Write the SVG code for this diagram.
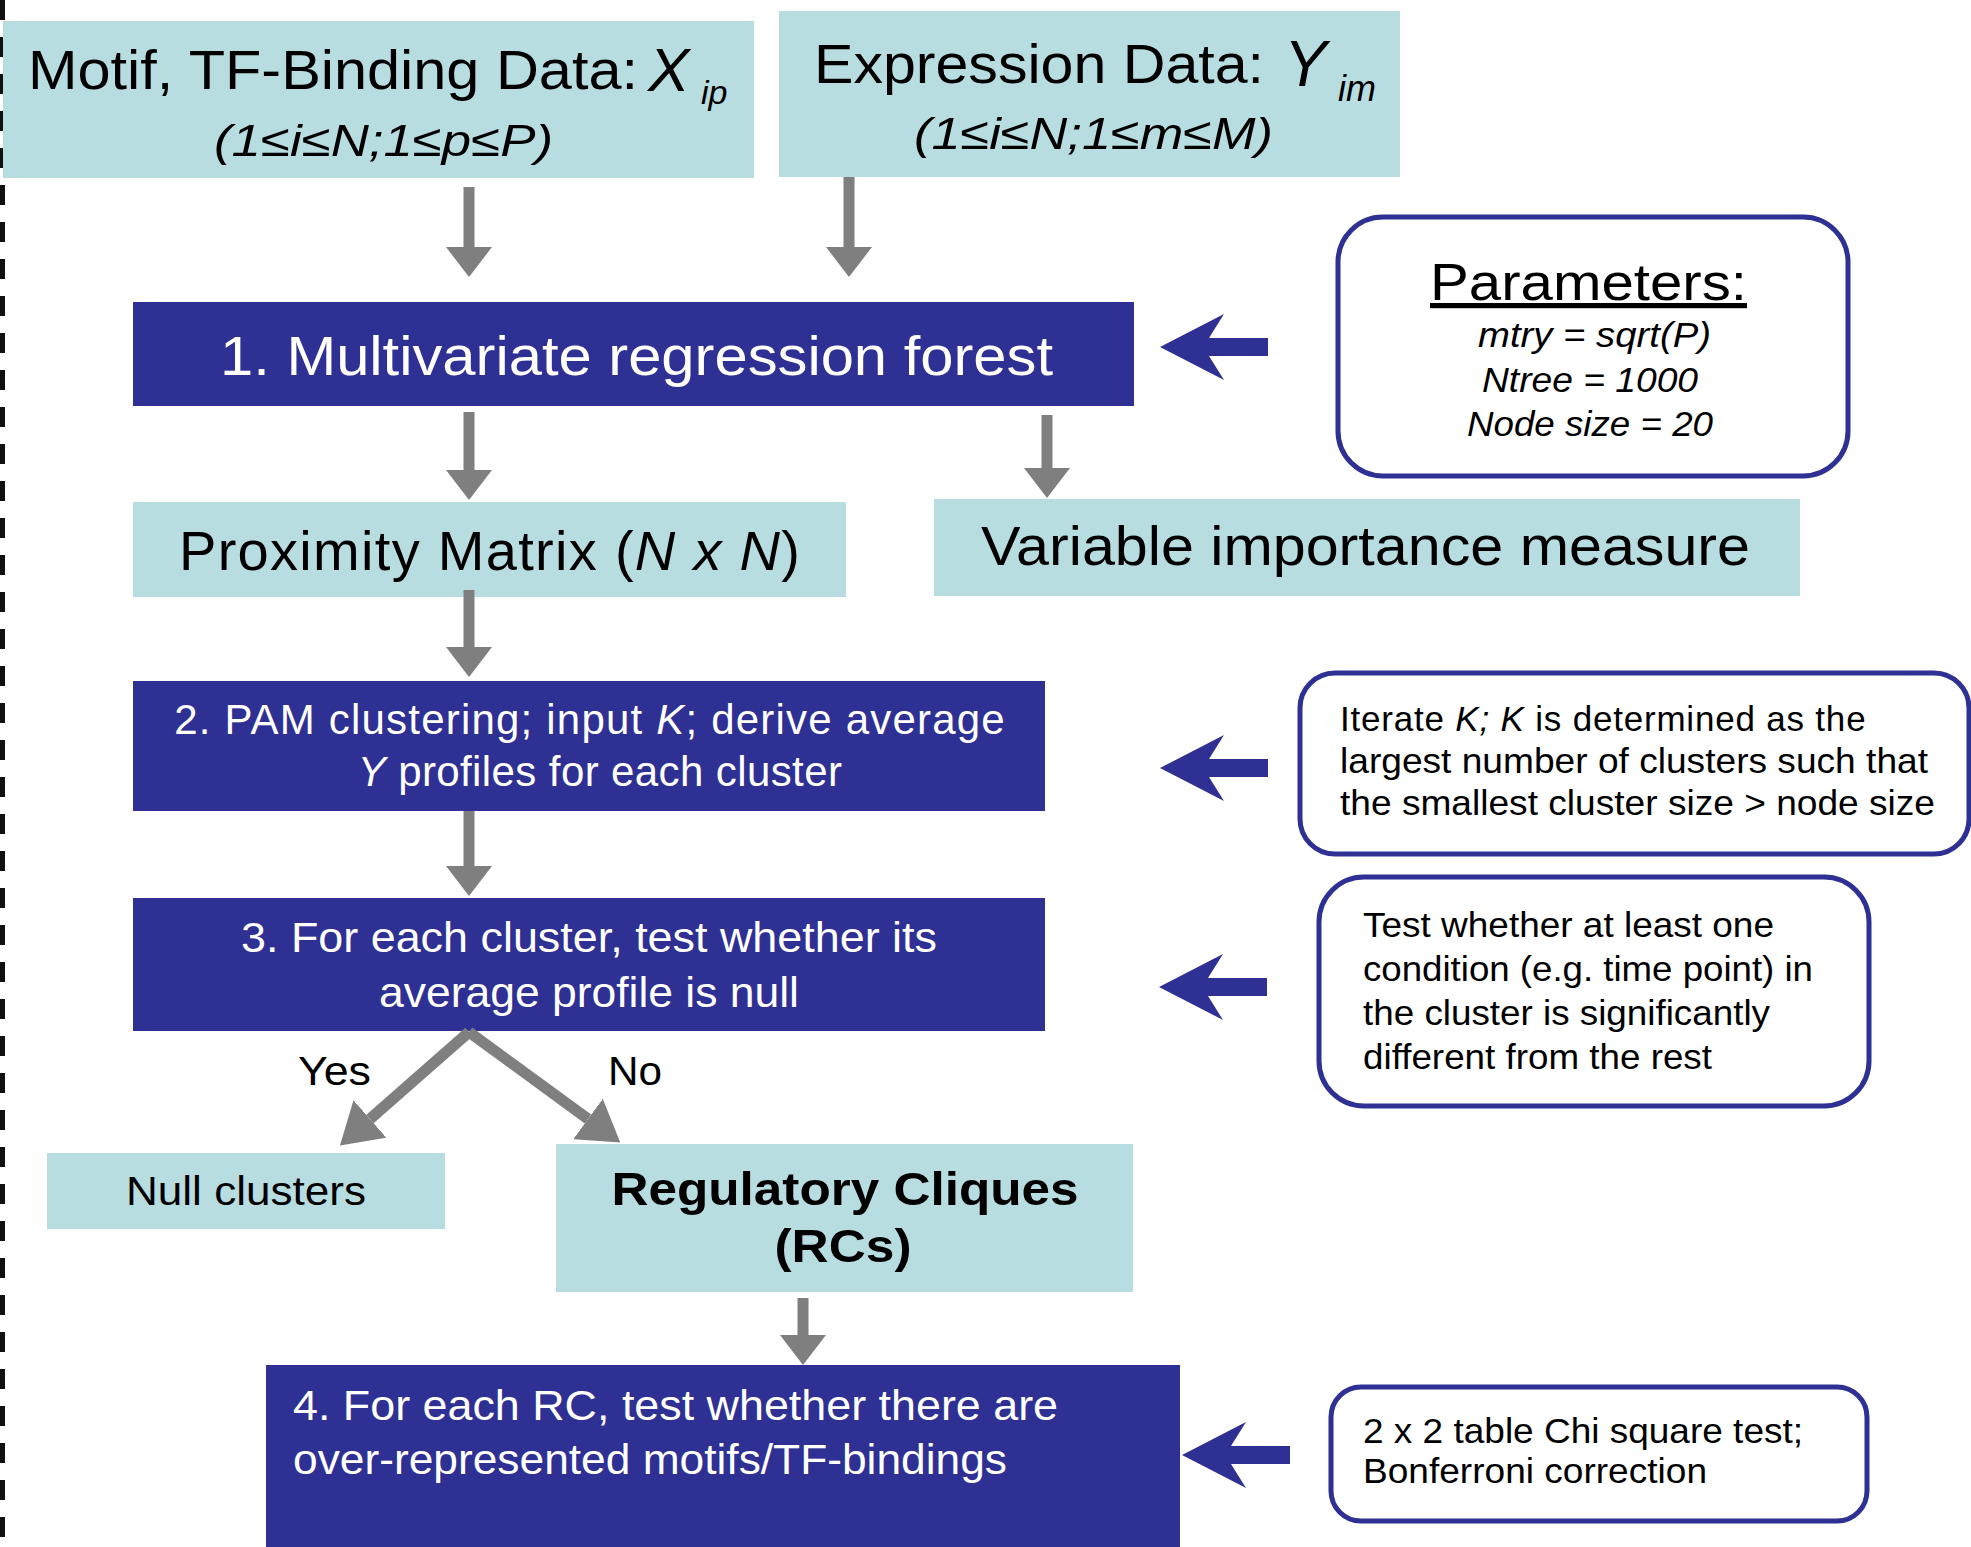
<svg xmlns="http://www.w3.org/2000/svg" xmlns:xlink="http://www.w3.org/1999/xlink" width="1971" height="1547" viewBox="0 0 1971 1547">
<style>
  text { font-family: "Liberation Sans", Arial, Helvetica, sans-serif; }
  .lb { fill: #b7dde1; }
  .nv { fill: #2f3094; }
  .note { fill: #ffffff; stroke: #2f3094; stroke-width: 5; }
  .big { font-size: 56px; fill: #000; }
  .wt { font-size: 42px; fill: #ffffff; }
  .sm { font-size: 35px; fill: #000; }
  .it { font-style: italic; }
  .gshaft { stroke: #7f7f7f; stroke-width: 11; fill: none; }
</style>
<defs>
  <marker id="gh" markerUnits="userSpaceOnUse" viewBox="0 0 30 46" refX="0" refY="23" markerWidth="30" markerHeight="46" orient="auto">
    <path d="M0,0 L30,23 L0,46 Z" fill="#7f7f7f"/>
  </marker>
  <marker id="ghl" markerUnits="userSpaceOnUse" viewBox="0 0 40 50" refX="0" refY="25" markerWidth="40" markerHeight="50" orient="auto">
    <path d="M0,0 L40,25 L0,50 Z" fill="#7f7f7f"/>
  </marker>
  <path id="ba" d="M0,0 L64,-33 L49,-9 L108,-9 L108,9 L49,9 L64,33 Z" fill="#2f3094"/>
</defs>
<rect x="0" y="0" width="1971" height="1547" fill="#ffffff"/>
<line x1="2.5" y1="0" x2="2.5" y2="1547" stroke="#111" stroke-width="5" stroke-dasharray="20 17"/>

<g id="motif-data">
  <rect class="lb" x="3" y="21" width="751" height="157"/>
  <text class="big" x="28" y="89" textLength="610" lengthAdjust="spacingAndGlyphs">Motif, TF-Binding Data:</text>
  <text class="it" x="648" y="91" font-size="62">X</text>
  <text class="it" x="701" y="104" font-size="34">ip</text>
  <text class="it" x="214" y="156" font-size="45" textLength="339" lengthAdjust="spacingAndGlyphs">(1≤i≤N;1≤p≤P)</text>
</g>

<g id="expression-data">
  <rect class="lb" x="779" y="11" width="621" height="166"/>
  <text class="big" x="814" y="83" textLength="450" lengthAdjust="spacingAndGlyphs">Expression Data:</text>
  <text class="it" x="1284" y="86" font-size="64">Y</text>
  <text class="it" x="1338" y="101" font-size="36">im</text>
  <text class="it" x="914" y="149" font-size="45" textLength="359" lengthAdjust="spacingAndGlyphs">(1≤i≤N;1≤m≤M)</text>
</g>

<g id="parameters">
  <rect class="note" x="1338" y="217" width="510" height="259" rx="45"/>
  <text x="1430" y="300" font-size="52" textLength="317" lengthAdjust="spacingAndGlyphs" text-decoration="underline">Parameters:</text>
  <text class="sm it" x="1478" y="347" textLength="233" lengthAdjust="spacingAndGlyphs">mtry = sqrt(P)</text>
  <text class="sm it" x="1482" y="392" textLength="216" lengthAdjust="spacingAndGlyphs">Ntree = 1000</text>
  <text class="sm it" x="1467" y="436" textLength="246" lengthAdjust="spacingAndGlyphs">Node size = 20</text>
</g>

<g id="step1">
  <rect class="nv" x="133" y="302" width="1001" height="104"/>
  <text class="big" x="220" y="375" style="fill:#fff" textLength="833" lengthAdjust="spacingAndGlyphs">1. Multivariate regression forest</text>
</g>

<g id="proximity">
  <rect class="lb" x="133" y="502" width="713" height="95"/>
  <text class="big" x="179" y="570" letter-spacing="1.3">Proximity Matrix (<tspan class="it">N x N</tspan>)</text>
</g>

<g id="variable-importance">
  <rect class="lb" x="934" y="499" width="866" height="97"/>
  <text class="big" x="981" y="565" textLength="769" lengthAdjust="spacingAndGlyphs">Variable importance measure</text>
</g>

<g id="step2">
  <rect class="nv" x="133" y="681" width="912" height="130"/>
  <text class="wt" x="590" y="734" text-anchor="middle" letter-spacing="1.2">2. PAM clustering; input <tspan class="it">K</tspan>; derive average</text>
  <text class="wt" x="600" y="786" text-anchor="middle" letter-spacing="0.4"><tspan class="it">Y</tspan> profiles for each cluster</text>
</g>

<g id="iterate-note">
  <rect class="note" x="1300" y="673" width="669" height="181" rx="35"/>
  <text class="sm" x="1340" y="731" letter-spacing="0.8">Iterate <tspan class="it">K; K</tspan> is determined as the</text>
  <text class="sm" x="1340" y="773" textLength="588" lengthAdjust="spacingAndGlyphs">largest number of clusters such that</text>
  <text class="sm" x="1340" y="815" textLength="595" lengthAdjust="spacingAndGlyphs">the smallest cluster size &gt; node size</text>
</g>

<g id="step3">
  <rect class="nv" x="133" y="898" width="912" height="133"/>
  <text class="wt" x="241" y="952" textLength="696" lengthAdjust="spacingAndGlyphs">3. For each cluster, test whether its</text>
  <text class="wt" x="379" y="1007" textLength="420" lengthAdjust="spacingAndGlyphs">average profile is null</text>
</g>

<g id="test-note">
  <rect class="note" x="1319" y="877" width="550" height="229" rx="45"/>
  <text class="sm" x="1363" y="937" textLength="411" lengthAdjust="spacingAndGlyphs">Test whether at least one</text>
  <text class="sm" x="1363" y="981" textLength="450" lengthAdjust="spacingAndGlyphs">condition (e.g. time point) in</text>
  <text class="sm" x="1363" y="1025" textLength="407" lengthAdjust="spacingAndGlyphs">the cluster is significantly</text>
  <text class="sm" x="1363" y="1069" textLength="349" lengthAdjust="spacingAndGlyphs">different from the rest</text>
</g>

<g id="null-clusters">
  <rect class="lb" x="47" y="1153" width="398" height="76"/>
  <text x="126" y="1205" font-size="40" textLength="240" lengthAdjust="spacingAndGlyphs">Null clusters</text>
</g>

<g id="regulatory-cliques">
  <rect class="lb" x="556" y="1144" width="577" height="148"/>
  <text x="845" y="1205" font-size="46" font-weight="bold" text-anchor="middle" textLength="467" lengthAdjust="spacingAndGlyphs">Regulatory Cliques</text>
  <text x="843" y="1262" font-size="46" font-weight="bold" text-anchor="middle" textLength="137" lengthAdjust="spacingAndGlyphs">(RCs)</text>
</g>

<g id="step4">
  <rect class="nv" x="266" y="1365" width="914" height="182"/>
  <text class="wt" x="293" y="1420" textLength="765" lengthAdjust="spacingAndGlyphs">4. For each RC, test whether there are</text>
  <text class="wt" x="293" y="1474" textLength="714" lengthAdjust="spacingAndGlyphs">over-represented motifs/TF-bindings</text>
</g>

<g id="chi-note">
  <rect class="note" x="1331" y="1387" width="536" height="134" rx="30"/>
  <text class="sm" x="1363" y="1443" textLength="440" lengthAdjust="spacingAndGlyphs">2 x 2 table Chi square test;</text>
  <text class="sm" x="1363" y="1483" textLength="344" lengthAdjust="spacingAndGlyphs">Bonferroni correction</text>
</g>

<g id="connectors">
  <line class="gshaft" x1="469" y1="187" x2="469" y2="247" marker-end="url(#gh)"/>
  <line class="gshaft" x1="849" y1="177" x2="849" y2="247" marker-end="url(#gh)"/>
  <line class="gshaft" x1="469" y1="412" x2="469" y2="470" marker-end="url(#gh)"/>
  <line class="gshaft" x1="1047" y1="415" x2="1047" y2="468" marker-end="url(#gh)"/>
  <line class="gshaft" x1="469" y1="590" x2="469" y2="647" marker-end="url(#gh)"/>
  <line class="gshaft" x1="469" y1="811" x2="469" y2="866" marker-end="url(#gh)"/>
  <line class="gshaft" x1="469" y1="1032" x2="370" y2="1119" marker-end="url(#ghl)"/>
  <line class="gshaft" x1="469" y1="1032" x2="588" y2="1119" marker-end="url(#ghl)"/>
  <line class="gshaft" x1="803" y1="1298" x2="803" y2="1335" marker-end="url(#gh)"/>
  <use xlink:href="#ba" x="1160" y="347"/>
  <use xlink:href="#ba" x="1160" y="768"/>
  <use xlink:href="#ba" x="1159" y="987"/>
  <use xlink:href="#ba" x="1182" y="1455"/>
  <text x="298" y="1085" font-size="40" textLength="73" lengthAdjust="spacingAndGlyphs">Yes</text>
  <text x="608" y="1085" font-size="40" textLength="54" lengthAdjust="spacingAndGlyphs">No</text>
</g>
</svg>
